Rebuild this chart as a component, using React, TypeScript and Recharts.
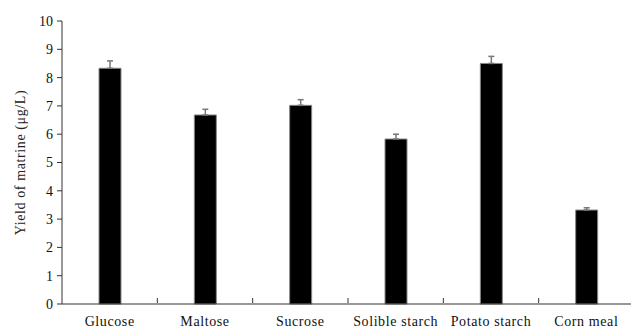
import React from "react";
import { Bar, BarChart, ErrorBar, XAxis, YAxis } from "recharts";

const sources = ["Glucose", "Maltose", "Sucrose", "Solible starch", "Potato starch", "Corn meal"];
const yields = [8.33, 6.68, 7.02, 5.83, 8.5, 3.32];
const errors = [0.26, 0.2, 0.2, 0.17, 0.25, 0.08];
const yTicks = [0, 1, 2, 3, 4, 5, 6, 7, 8, 9, 10];

const data = sources.map((name, i) => ({
  name,
  value: yields[i],
  err: [0, errors[i]],
}));

const font = "'Liberation Serif', 'Times New Roman', serif";

function CategoryTick(props: any) {
  const { x, y, payload } = props;
  const half = payload?.offset || 572 / 6 / 2;
  const isLast = payload?.index === sources.length - 1;
  return (
    <g>
      {!isLast && (
        <line x1={x + half} y1={y - 9} x2={x + half} y2={y - 14} stroke="#333" strokeWidth={1} />
      )}
      <text
        x={x}
        y={y + 14}
        textAnchor="middle"
        fontFamily={font}
        fontSize={14}
        letterSpacing={0.6}
        fill="#111"
      >
        {payload.value}
      </text>
    </g>
  );
}

export default function App() {
  return (
    <div style={{ position: "absolute", left: 0, top: 0, width: 631, height: 331, overflow: "hidden", background: "#fff" }}>
      <BarChart
        width={634}
        height={331}
        data={data}
        margin={{ top: 21, right: 0, bottom: 0, left: 0 }}
        barCategoryGap={0}
      >
        <XAxis
          dataKey="name"
          axisLine={{ stroke: "#333" }}
          tickLine={false}
          interval={0}
          tick={<CategoryTick />}
          height={27}
        />
        <YAxis
          domain={[0, 10]}
          ticks={yTicks}
          interval={0}
          width={62}
          axisLine={{ stroke: "#333" }}
          tickLine={{ stroke: "#333" }}
          tickSize={5}
          tickMargin={4}
          tick={{ fontFamily: font, fontSize: 14, fill: "#111" }}
          label={{
            value: "Yield of matrine (μg/L)",
            angle: -90,
            position: "insideLeft",
            offset: 20,
            style: { fontFamily: font, fontSize: 14, fill: "#222", letterSpacing: 0.6, textAnchor: "middle" },
          }}
        />
        <Bar dataKey="value" fill="#000" stroke="#888" strokeWidth={1} barSize={22} isAnimationActive={false}>
          <ErrorBar dataKey="err" direction="y" width={3} stroke="#777" strokeWidth={1.5} isAnimationActive={false} />
        </Bar>
      </BarChart>
    </div>
  );
}
